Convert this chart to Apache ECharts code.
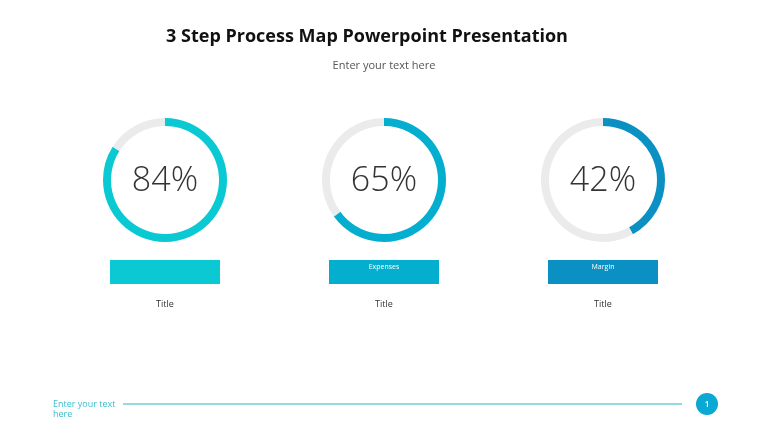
<!DOCTYPE html>
<html><head><meta charset="utf-8">
<script src="https://cdn.jsdelivr.net/npm/echarts@6/dist/echarts.min.js"></script>
<style>html,body{margin:0;padding:0;background:#fff}#c{width:768px;height:432px}</style>
</head><body><div id="c"></div>
<script>
const percents = [84, 65, 42];
const barLabels = ['', 'Expenses', 'Margin'];
const titles = ['Title', 'Title', 'Title'];
const colors = ['#0BC9D3', '#04AECF', '#0A90C2'];
const centersX = [165, 384, 603];
const chartTitle = '3 Step Process Map Powerpoint Presentation';
const subtitle = 'Enter your text here';
const footerText = 'Enter your text\nhere';
const pageNum = '1';

const chart = echarts.init(document.getElementById('c'), null, {renderer: 'canvas'});
const series = percents.map((p, i) => ({
  type: 'pie', silent: true, animation: false,
  center: [centersX[i], 180], radius: [54, 62],
  startAngle: 90, clockwise: true, label: {show: false}, labelLine: {show: false},
  data: [
    {value: p, itemStyle: {color: colors[i]}},
    {value: 100 - p, itemStyle: {color: '#EBEBEB'}}
  ]
}));
const graphics = [];
percents.forEach((p, i) => {
  graphics.push({type: 'text', x: centersX[i], y: 181, style: {text: p + '%', x: 0, y: 0, fill: '#333', font: '300 34px "Open Sans", Lato, sans-serif', textAlign: 'center', textVerticalAlign: 'middle'}});
  graphics.push({type: 'rect', shape: {x: centersX[i] - 55, y: 260, width: 110, height: 24}, style: {fill: colors[i]}});
  graphics.push({type: 'text', x: centersX[i], y: 267, style: {text: barLabels[i], fill: '#fff', font: '7px "Open Sans", sans-serif', textAlign: 'center', textVerticalAlign: 'middle'}});
  graphics.push({type: 'text', x: centersX[i], y: 304, style: {text: titles[i], fill: '#333', font: '9px "Open Sans", sans-serif', textAlign: 'center', textVerticalAlign: 'middle'}});
});
graphics.push({type: 'line', shape: {x1: 123, y1: 404, x2: 682, y2: 404}, style: {stroke: '#2BB5C8', lineWidth: 1.2}});
graphics.push({type: 'circle', shape: {cx: 707, cy: 404, r: 11}, style: {fill: '#0AA9D4'}});
graphics.push({type: 'text', x: 707, y: 404, style: {text: pageNum, fill: '#fff', font: '600 9px "Open Sans", sans-serif', textAlign: 'center', textVerticalAlign: 'middle'}});
graphics.push({type: 'text', x: 53, y: 399, style: {text: footerText, fill: '#3CBCCB', font: '9px "Open Sans", sans-serif', lineHeight: 10, textAlign: 'left', textVerticalAlign: 'top'}});

chart.setOption({
  backgroundColor: '#fff',
  animation: false,
  title: [
    {text: chartTitle, left: 362, top: 23, textAlign: 'center', textStyle: {fontFamily: '"Open Sans", sans-serif', fontWeight: 'bold', fontSize: 18, color: '#111'}},
    {text: subtitle, left: 379, top: 55, textAlign: 'center', textStyle: {fontFamily: '"Open Sans", sans-serif', fontWeight: 'normal', fontSize: 11, color: '#555'}}
  ],
  series: series,
  graphic: graphics
});
</script></body></html>
